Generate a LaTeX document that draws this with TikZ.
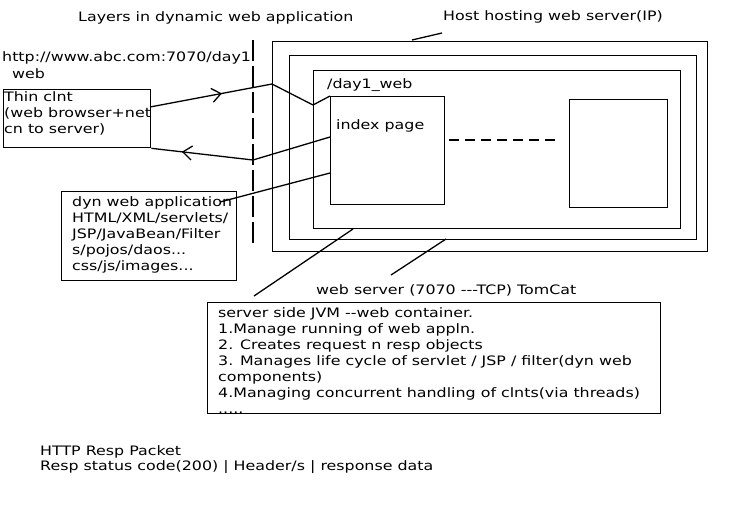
\documentclass[tikz,border=0pt]{standalone}
\usepackage{fontspec}
\setmainfont{DejaVu Sans}[FakeStretch=1.22]
\usetikzlibrary{arrows.meta,decorations.markings}
\begin{document}
\begin{tikzpicture}[x=1pt,y=-1pt,
  box/.style={draw, line width=1.3pt, inner sep=0pt, anchor=north west},
  txt/.style={font=\fontsize{13}{16}\selectfont, inner sep=0pt, anchor=west, align=left},
  lnk/.style={line width=1.3pt},
  midarrow/.style={lnk, postaction={decorate}, decoration={markings, mark=at position #1 with {\arrow[line width=1.3pt]{Straight Barb[length=9pt,width=14pt]}}}}]
\useasboundingbox (0,0) rectangle (733,509);
% title labels
\node[txt] (title) at (78,18) {Layers in dynamic web application};
\node[txt] (hostlbl) at (443,17) {Host hosting web server(IP)};
\node[txt] (url) at (2,58) {http://www.abc.com:7070/day1};
\node[txt] (urlb) at (12,74) {web};
% dashed divider
\coordinate (d1) at (253,40);
\coordinate (d2) at (253,247);
\draw[lnk, dash pattern=on 21pt off 5pt] (d1) -- (d2);
% boxes
\node[box, minimum width=147pt, minimum height=58pt] (thin) at (3,89) {};
\node[txt] (thint) at (4,113) {Thin clnt\\(web browser+net\\cn to server)};
\node[box, minimum width=175pt, minimum height=89pt] (dyn) at (61,191) {};
\node[txt, anchor=north west] (dynt) at (72,196) {dyn web application\\HTML/XML/servlets/\\JSP/JavaBean/Filter\\s/pojos/daos...\\css/js/images...};
\node[box, minimum width=435pt, minimum height=210pt] (host) at (272,41) {};
\node[box, minimum width=407pt, minimum height=184pt] (server) at (289,55) {};
\node[box, minimum width=367pt, minimum height=158pt] (app) at (313,70) {};
\node[box, minimum width=114pt, minimum height=108pt] (index) at (330,96) {};
\node[box, minimum width=98pt, minimum height=108pt] (other) at (569,99) {};
\node[txt] (applbl) at (327,85) {/day1\_web};
\node[txt] (idxlbl) at (336,126) {index page};
\node[txt] (wslbl) at (316,290) {web server (7070 {-}{-}{-}TCP) TomCat};
% dashed link between pages
\coordinate (p1) at (449,140);
\coordinate (p2) at (557,140);
\draw[lnk, dash pattern=on 10pt off 6pt] (p1) -- (p2);
% request path
\coordinate (r0) at (150,107);
\coordinate (r1) at (272,84);
\coordinate (r2) at (313,105);
\draw[midarrow=0.59] (r0) -- (r1);
\draw[lnk] (r1) -- (r2) -- (index.north west);
% response path
\coordinate (s0) at (330,137);
\coordinate (s1) at (253,160);
\draw[lnk] (s0) -- (s1);
\draw[midarrow=0.70] (s1) -- (thin.south east);
% dyn app pointer
\coordinate (q0) at (330,173);
\coordinate (q1) at (220,202);
\draw[lnk] (q0) -- (q1);
% leaders
\coordinate (h0) at (412,40);
\coordinate (h1) at (442,33);
\draw[lnk] (h0) -- (h1);
\coordinate (w0) at (353,229);
\coordinate (w1) at (254,296);
\draw[lnk] (w0) -- (w1);
\coordinate (v0) at (446,239);
\coordinate (v1) at (391,275);
\draw[lnk] (v0) -- (v1);
% container box
\node[box, minimum width=453pt, minimum height=111pt] (jvm) at (207,302) {};
\begin{scope}
\clip (jvm.north west) rectangle (jvm.south east);
\node[txt, anchor=north west] (jvmt) at (218,307) {server side JVM {-}{-}web container.\\1.Manage running of web appln.\\2. Creates request n resp objects\\3. Manages life cycle of servlet / JSP / filter(dyn web\\components)\\4.Managing concurrent handling of clnts(via threads)\\.....};
\end{scope}
\node[txt] (pkt) at (40,452) {HTTP Resp Packet};
\node[txt] (pktb) at (40,467) {Resp status code(200) | Header/s | response data};
\end{tikzpicture}
\end{document}
